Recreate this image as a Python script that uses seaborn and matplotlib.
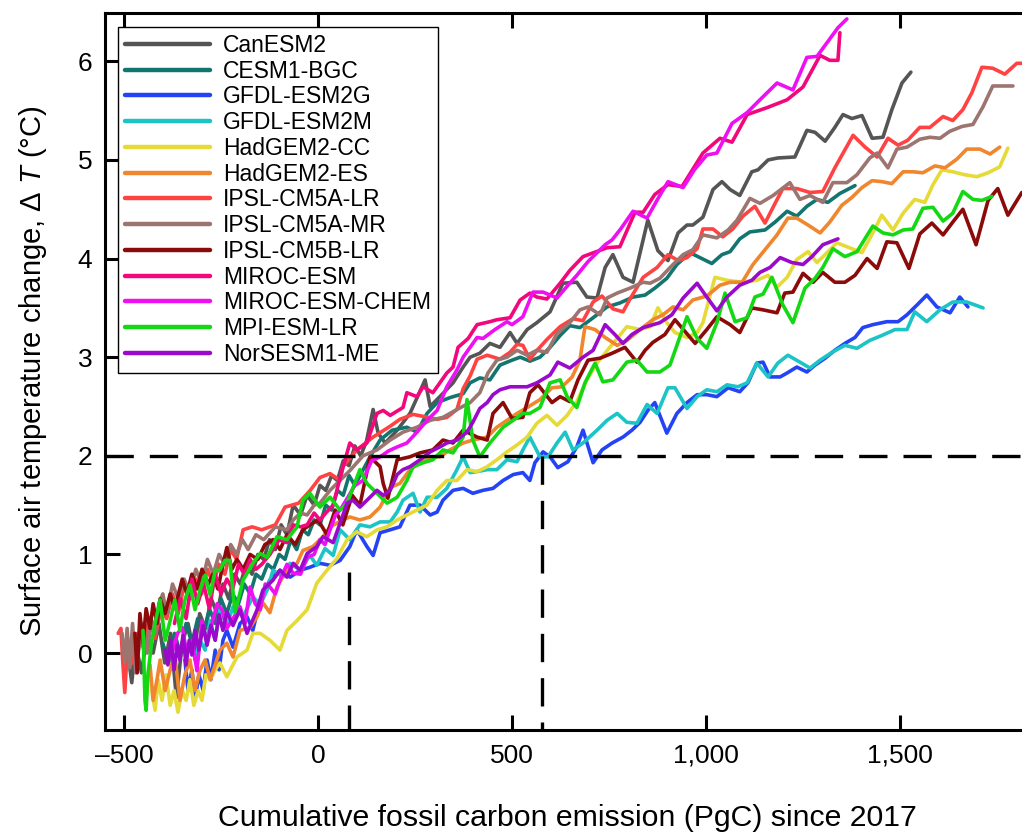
import numpy as np
import pandas as pd
import matplotlib
matplotlib.use("Agg")
import matplotlib.pyplot as plt
from matplotlib.lines import Line2D
from matplotlib.ticker import FuncFormatter
import seaborn as sns

# (cumulative emission PgC since 2017, warming degC)
canesm2 = [(-490, 0.0), (-480, -0.3), (-470, 0.1), (-455, -0.2), (-440, 0.2), (-425, 0.0), (-410, 0.3),
           (-395, -0.1), (-380, 0.2), (-365, -0.45), (-350, 0.1), (-335, 0.3), (-320, 0.0), (-305, 0.4),
           (-290, 0.25), (-275, 0.55), (-260, 0.4), (-245, 0.7), (-230, 0.55), (-215, 0.8), (-200, 0.7),
           (-185, 0.9), (-170, 0.8), (-155, 1.0), (-140, 0.95), (-125, 1.15), (-110, 1.05), (-95, 1.3),
           (-80, 1.2), (-64, 1.5), (-45, 1.4), (-28, 1.6), (-10, 1.5), (5, 1.7), (20, 1.65), (35, 1.8),
           (50, 1.75), (65, 1.95), (80, 1.9), (95, 2.1), (110, 2.0), (125, 2.15), (142, 2.47), (155, 2.23),
           (173, 2.13), (204, 2.26), (237, 2.43), (276, 2.77), (289, 2.50), (314, 2.60), (348, 2.74),
           (374, 2.90), (392, 3.00), (417, 3.04), (443, 3.14), (469, 3.10), (495, 3.25), (513, 3.14),
           (539, 3.28), (564, 3.35), (598, 3.46), (631, 3.75), (667, 3.76), (693, 3.61), (719, 3.60),
           (740, 3.91), (760, 4.04), (786, 3.81), (812, 3.76), (850, 4.39), (876, 4.08), (902, 3.98),
           (928, 4.26), (951, 4.34), (966, 4.34), (992, 4.42), (1018, 4.70), (1041, 4.78), (1062, 4.70),
           (1087, 4.64), (1118, 4.88), (1134, 4.90), (1160, 5.00), (1185, 5.02), (1229, 5.03), (1260, 5.30),
           (1281, 5.28), (1307, 5.19), (1332, 5.33), (1353, 5.46), (1376, 5.42), (1402, 5.45), (1428, 5.22),
           (1456, 5.23), (1479, 5.51), (1505, 5.78), (1528, 5.89)]

cesm1_bgc = [(-400, 0.1), (-385, -0.1), (-370, 0.2), (-355, 0.0), (-340, 0.3), (-325, 0.1), (-310, 0.35),
             (-295, 0.2), (-280, 0.45), (-265, 0.3), (-250, 0.55), (-235, 0.4), (-220, 0.6), (-205, 0.5),
             (-190, 0.7), (-175, 0.6), (-160, 0.8), (-145, 0.75), (-130, 0.9), (-115, 0.85), (-100, 1.0),
             (-85, 0.95), (-70, 1.15), (-55, 1.05), (-40, 1.25), (-25, 1.2), (-10, 1.35), (5, 1.3), (20, 1.5),
             (35, 1.45), (50, 1.65), (65, 1.6), (80, 1.8), (95, 1.7), (134, 1.99), (160, 2.16), (191, 2.26),
             (229, 2.29), (255, 2.24), (281, 2.43), (307, 2.54), (340, 2.59), (374, 2.63), (392, 2.74),
             (417, 2.79), (443, 2.77), (469, 2.92), (500, 2.97), (521, 3.00), (546, 2.96), (572, 3.00),
             (598, 3.10), (624, 3.22), (649, 3.32), (675, 3.30), (709, 3.40), (745, 3.51), (778, 3.55),
             (812, 3.61), (843, 3.63), (868, 3.70), (899, 3.80), (925, 3.94), (959, 4.06), (979, 4.02),
             (1015, 3.95), (1041, 4.04), (1062, 4.07), (1087, 4.20), (1113, 4.27), (1152, 4.29), (1178, 4.37),
             (1209, 4.48), (1234, 4.43), (1260, 4.53), (1286, 4.60), (1314, 4.57), (1345, 4.66), (1384, 4.74)]

gfdl_esm2g = [(-343, -0.07), (-335, -0.38), (-325, -0.17), (-317, -0.48), (-307, -0.22), (-296, -0.38),
              (-286, -0.07), (-276, -0.27), (-265, 0.03), (-255, -0.17), (-245, 0.13), (-235, 0.23),
              (-219, 0.06), (-201, 0.30), (-183, 0.37), (-168, 0.23), (-149, 0.54), (-124, 0.74), (-98, 0.84),
              (-72, 0.77), (-46, 0.84), (-21, 0.87), (5, 0.91), (31, 0.89), (57, 0.94), (82, 1.08), (100, 1.25),
              (126, 1.08), (142, 0.99), (160, 1.22), (186, 1.25), (211, 1.28), (237, 1.50), (263, 1.50),
              (289, 1.40), (307, 1.43), (322, 1.55), (348, 1.65), (374, 1.67), (399, 1.62), (425, 1.65),
              (451, 1.67), (477, 1.75), (503, 1.81), (528, 1.83), (546, 1.75), (559, 1.93), (580, 2.04),
              (598, 1.99), (618, 1.88), (644, 1.94), (667, 2.09), (683, 2.26), (709, 1.93), (732, 2.06),
              (758, 2.13), (786, 2.19), (809, 2.26), (830, 2.34), (850, 2.46), (868, 2.54), (899, 2.23),
              (925, 2.43), (951, 2.54), (977, 2.62), (1002, 2.62), (1028, 2.60), (1057, 2.69), (1087, 2.65),
              (1108, 2.74), (1131, 2.94), (1147, 2.95), (1165, 2.80), (1191, 2.80), (1209, 2.84), (1234, 2.90),
              (1260, 2.85), (1281, 2.92), (1307, 2.99), (1332, 3.07), (1358, 3.14), (1384, 3.20), (1404, 3.30),
              (1430, 3.33), (1466, 3.36), (1495, 3.36), (1518, 3.43), (1544, 3.53), (1569, 3.63), (1595, 3.51),
              (1629, 3.45), (1654, 3.61), (1675, 3.51)]

gfdl_esm2m = [(-317, -0.07), (-304, 0.13), (-291, 0.03), (-278, 0.33), (-265, 0.13), (-253, 0.44),
              (-235, 0.28), (-219, 0.47), (-193, 0.37), (-168, 0.57), (-149, 0.49), (-131, 0.64), (-116, 0.84),
              (-90, 0.77), (-72, 0.91), (-46, 0.84), (-21, 0.99), (-3, 0.89), (18, 1.06), (39, 0.99), (57, 1.25),
              (82, 1.15), (108, 1.30), (134, 1.28), (160, 1.33), (186, 1.33), (204, 1.43), (219, 1.55),
              (245, 1.62), (263, 1.43), (281, 1.58), (307, 1.58), (332, 1.67), (358, 1.86), (374, 1.99),
              (392, 1.83), (410, 1.84), (436, 1.86), (461, 1.86), (487, 1.96), (513, 1.94), (528, 2.06),
              (546, 2.19), (572, 1.99), (593, 1.99), (616, 2.13), (637, 2.24), (657, 2.06), (683, 2.13),
              (719, 2.26), (745, 2.36), (771, 2.43), (796, 2.34), (822, 2.33), (848, 2.52), (874, 2.43),
              (902, 2.69), (920, 2.69), (951, 2.48), (977, 2.60), (1002, 2.67), (1028, 2.65), (1054, 2.72),
              (1082, 2.70), (1106, 2.74), (1131, 2.94), (1160, 2.80), (1185, 2.94), (1211, 3.02), (1242, 2.95),
              (1268, 2.89), (1294, 2.97), (1325, 3.05), (1358, 3.12), (1389, 3.09), (1422, 3.17), (1453, 3.22),
              (1487, 3.28), (1518, 3.28), (1538, 3.46), (1569, 3.36), (1603, 3.48), (1636, 3.56), (1672, 3.56),
              (1714, 3.50)]

hadgem2_cc = [(-428, -0.38), (-420, -0.58), (-412, -0.27), (-402, -0.48), (-392, -0.22), (-381, -0.53),
              (-371, -0.38), (-361, -0.60), (-350, -0.38), (-340, -0.48), (-330, -0.27), (-320, -0.53),
              (-309, -0.38), (-299, -0.48), (-289, -0.22), (-278, -0.27), (-265, -0.17), (-253, -0.10),
              (-235, -0.24), (-209, -0.04), (-183, 0.03), (-168, 0.20), (-149, 0.20), (-124, 0.13), (-98, 0.03),
              (-80, 0.23), (-54, 0.33), (-28, 0.44), (-3, 0.71), (23, 0.84), (49, 0.96), (75, 1.15), (100, 1.23),
              (126, 1.18), (152, 1.25), (178, 1.28), (204, 1.35), (229, 1.40), (255, 1.45), (281, 1.50),
              (307, 1.65), (332, 1.75), (358, 1.75), (384, 1.86), (410, 1.84), (436, 1.89), (461, 1.96),
              (487, 2.04), (513, 2.11), (539, 2.19), (564, 2.33), (590, 2.41), (616, 2.31), (642, 2.41),
              (667, 2.55), (693, 2.77), (719, 2.94), (752, 3.10), (796, 3.31), (830, 3.28), (856, 3.31),
              (876, 3.50), (899, 3.35), (920, 3.25), (951, 3.20), (977, 3.25), (992, 3.35), (1023, 3.81),
              (1054, 3.78), (1093, 3.76), (1131, 3.78), (1160, 3.83), (1183, 3.71), (1209, 3.81), (1234, 3.99),
              (1263, 4.07), (1286, 3.96), (1312, 4.06), (1337, 4.16), (1363, 4.12), (1402, 4.06), (1430, 4.26),
              (1453, 4.44), (1482, 4.29), (1508, 4.46), (1538, 4.60), (1564, 4.57), (1585, 4.75), (1608, 4.90),
              (1636, 4.88), (1667, 4.85), (1698, 4.83), (1727, 4.87), (1757, 4.93), (1778, 5.12)]

hadgem2_es = [(-433, -0.12), (-425, -0.48), (-415, -0.27), (-407, -0.07), (-394, -0.38), (-381, -0.17),
              (-369, -0.02), (-356, -0.48), (-343, -0.22), (-330, -0.07), (-317, -0.38), (-304, -0.17),
              (-291, -0.07), (-278, -0.27), (-265, -0.12), (-253, 0.03), (-235, 0.10), (-219, -0.04),
              (-201, 0.23), (-175, 0.26), (-157, 0.37), (-142, 0.51), (-124, 0.41), (-106, 0.67), (-80, 0.84),
              (-54, 0.91), (-39, 1.04), (-13, 1.08), (13, 1.18), (31, 1.28), (64, 1.35), (82, 1.38), (108, 1.35),
              (134, 1.38), (160, 1.48), (186, 1.68), (211, 1.72), (237, 1.86), (263, 1.93), (289, 1.99),
              (314, 1.99), (340, 2.06), (374, 2.13), (399, 2.16), (436, 2.19), (461, 2.29), (487, 2.36),
              (513, 2.43), (539, 2.49), (572, 2.57), (603, 2.69), (629, 2.70), (655, 2.80), (675, 2.97),
              (688, 3.31), (714, 3.28), (740, 3.20), (771, 3.12), (796, 3.17), (830, 3.28), (863, 3.38),
              (889, 3.43), (915, 3.51), (941, 3.48), (966, 3.58), (1002, 3.62), (1036, 3.73), (1062, 3.76),
              (1093, 3.76), (1121, 3.94), (1152, 4.09), (1183, 4.24), (1211, 4.41), (1234, 4.41), (1263, 4.34),
              (1294, 4.26), (1319, 4.37), (1350, 4.54), (1376, 4.62), (1402, 4.72), (1428, 4.79), (1453, 4.78),
              (1479, 4.76), (1508, 4.88), (1533, 4.88), (1559, 4.87), (1590, 4.94), (1616, 4.92), (1647, 5.01),
              (1672, 5.11), (1706, 5.11), (1732, 5.06), (1757, 5.13)]

ipsl_cm5a_lr = [(-515, 0.2), (-508, 0.25), (-503, -0.1), (-498, -0.4), (-492, 0.0), (-485, 0.1), (-478, -0.1),
                (-465, 0.2), (-450, 0.05), (-435, 0.35), (-420, 0.15), (-405, 0.45), (-390, 0.35), (-375, 0.6),
                (-360, 0.4), (-345, 0.7), (-330, 0.55), (-315, 0.75), (-300, 0.6), (-285, 0.85), (-270, 0.7),
                (-255, 0.9), (-240, 0.8), (-225, 1.05), (-210, 0.95), (-193, 1.25), (-170, 1.28), (-145, 1.25),
                (-110, 1.30), (-85, 1.48), (-50, 1.52), (-20, 1.65), (5, 1.78), (31, 1.82), (57, 1.75),
                (64, 1.89), (100, 2.06), (142, 2.19), (186, 2.30), (211, 2.37), (245, 2.42), (271, 2.40),
                (307, 2.37), (332, 2.39), (358, 2.47), (374, 2.68), (392, 2.81), (410, 2.98), (436, 3.02),
                (469, 2.98), (495, 3.05), (513, 3.13), (528, 3.12), (546, 2.98), (567, 3.08), (590, 3.18),
                (624, 3.31), (657, 3.39), (683, 3.37), (709, 3.56), (732, 3.62), (760, 3.49), (786, 3.46),
                (804, 3.59), (838, 3.81), (874, 3.91), (902, 4.04), (928, 3.98), (951, 4.01), (977, 4.10),
                (992, 4.30), (1018, 4.30), (1043, 4.22), (1069, 4.30), (1095, 4.43), (1126, 4.53), (1152, 4.36),
                (1178, 4.56), (1198, 4.71), (1234, 4.71), (1268, 4.67), (1301, 4.68), (1332, 4.92), (1379, 5.25),
                (1410, 5.13), (1441, 5.03), (1469, 5.22), (1495, 5.15), (1520, 5.20), (1551, 5.33), (1577, 5.33),
                (1611, 5.44), (1636, 5.40), (1662, 5.51), (1685, 5.68), (1711, 5.94), (1739, 5.93), (1770, 5.87),
                (1801, 5.98), (1814, 5.98)]

ipsl_cm5a_mr = [(-505, 0.2), (-498, -0.1), (-492, 0.25), (-485, -0.15), (-478, 0.3), (-470, -0.2), (-460, 0.1),
                (-450, 0.3), (-440, 0.0), (-430, 0.35), (-420, 0.2), (-410, 0.5), (-400, 0.6), (-390, 0.4),
                (-375, 0.7), (-360, 0.55), (-345, 0.75), (-330, 0.6), (-315, 0.85), (-300, 0.7), (-285, 0.95),
                (-270, 0.8), (-255, 1.0), (-240, 0.9), (-225, 1.1), (-210, 1.0), (-195, 1.15), (-180, 1.05),
                (-160, 1.2), (-140, 1.15), (-110, 1.28), (-80, 1.25), (-64, 1.35), (-45, 1.42), (-28, 1.40),
                (-10, 1.5), (5, 1.52), (31, 1.65), (82, 1.85), (116, 2.00), (152, 2.06), (186, 2.16), (219, 2.24),
                (255, 2.29), (289, 2.36), (322, 2.39), (358, 2.47), (392, 2.54), (417, 2.64), (438, 2.84),
                (461, 2.97), (487, 3.00), (513, 3.07), (539, 3.02), (564, 3.07), (590, 3.05), (616, 3.24),
                (649, 3.35), (675, 3.48), (696, 3.51), (727, 3.43), (745, 3.60), (771, 3.65), (804, 3.70),
                (838, 3.76), (856, 3.75), (881, 3.80), (915, 3.94), (941, 4.04), (966, 4.09), (992, 4.24),
                (1028, 4.21), (1057, 4.29), (1080, 4.39), (1113, 4.61), (1139, 4.56), (1173, 4.64), (1216, 4.77),
                (1242, 4.60), (1268, 4.64), (1301, 4.57), (1327, 4.77), (1363, 4.77), (1389, 4.85), (1422, 5.02),
                (1441, 5.07), (1469, 4.92), (1492, 5.11), (1518, 5.13), (1551, 5.21), (1577, 5.23), (1603, 5.22),
                (1628, 5.29), (1660, 5.34), (1688, 5.36), (1714, 5.54), (1739, 5.75), (1791, 5.75)]

ipsl_cm5b_lr = [(-472, 0.2), (-466, -0.2), (-459, 0.4), (-451, 0.1), (-443, 0.45), (-433, 0.25), (-425, 0.5),
                (-415, 0.3), (-407, 0.55), (-394, 0.4), (-381, 0.6), (-369, 0.45), (-350, 0.75), (-338, 0.6),
                (-325, 0.8), (-312, 0.65), (-299, 0.85), (-283, 0.7), (-271, 0.8), (-258, 0.65), (-245, 0.9),
                (-235, 1.07), (-222, 0.85), (-209, 0.95), (-193, 0.85), (-175, 1.0), (-155, 0.95), (-137, 1.1),
                (-116, 1.15), (-98, 1.05), (-80, 1.2), (-59, 1.1), (-39, 1.25), (-21, 1.3), (0, 1.35), (23, 1.2),
                (44, 1.45), (64, 1.3), (88, 1.6), (108, 1.5), (134, 1.99), (160, 1.89), (168, 1.72), (180, 1.57),
                (204, 1.96), (237, 1.99), (263, 2.03), (296, 2.06), (322, 2.16), (348, 2.13), (374, 2.26),
                (410, 2.19), (436, 2.16), (451, 2.43), (477, 2.54), (500, 2.38), (528, 2.39), (546, 2.64),
                (567, 2.72), (603, 2.54), (624, 2.60), (649, 2.55), (670, 2.77), (696, 2.97), (727, 2.99),
                (758, 3.04), (791, 3.10), (822, 2.95), (843, 3.07), (863, 3.15), (894, 3.23), (920, 3.38),
                (946, 3.26), (972, 3.14), (1002, 3.28), (1028, 3.41), (1062, 3.33), (1087, 3.25), (1118, 3.50),
                (1147, 3.48), (1183, 3.45), (1203, 3.65), (1224, 3.66), (1250, 3.85), (1276, 3.76), (1301, 3.86),
                (1332, 3.76), (1358, 3.76), (1384, 3.83), (1415, 4.00), (1441, 3.90), (1466, 4.17), (1492, 4.16),
                (1523, 3.90), (1551, 4.25), (1582, 4.36), (1611, 4.24), (1636, 4.37), (1662, 4.50), (1696, 4.14),
                (1727, 4.59), (1752, 4.71), (1778, 4.44), (1814, 4.67)]

miroc_esm = [(-370, 0.3), (-355, 0.55), (-340, 0.35), (-325, 0.75), (-310, 0.5), (-295, 0.7), (-280, 0.45),
             (-265, 0.8), (-250, 0.6), (-235, 0.75), (-220, 0.65), (-205, 0.9), (-190, 0.8), (-175, 0.95),
             (-160, 0.85), (-145, 0.9), (-124, 1.0), (-100, 1.15), (-80, 1.12), (-64, 1.3), (-45, 1.28),
             (-28, 1.3), (-10, 1.42), (5, 1.35), (20, 1.42), (39, 1.5), (57, 1.78), (82, 2.13), (100, 2.06),
             (126, 2.13), (152, 2.43), (168, 2.46), (186, 2.41), (219, 2.49), (229, 2.64), (255, 2.60),
             (271, 2.70), (296, 2.64), (314, 2.74), (332, 2.84), (348, 2.90), (361, 3.10), (387, 3.19),
             (410, 3.33), (443, 3.36), (461, 3.38), (495, 3.40), (521, 3.58), (546, 3.65), (564, 3.61),
             (590, 3.59), (624, 3.75), (649, 3.88), (683, 4.02), (745, 4.11), (778, 4.12), (817, 4.47),
             (838, 4.47), (868, 4.65), (902, 4.75), (938, 4.73), (992, 5.07), (1036, 5.22), (1067, 5.18),
             (1106, 5.46), (1157, 5.53), (1209, 5.61), (1250, 5.74), (1294, 6.06), (1319, 6.01), (1340, 6.01),
             (1345, 6.29)]

miroc_esm_chem = [(-380, -0.05), (-362, 0.2), (-350, 0.26), (-338, 0.0), (-325, 0.13), (-312, -0.18),
                  (-299, 0.33), (-286, 0.1), (-273, 0.30), (-260, 0.5), (-247, 0.44), (-235, 0.25), (-222, 0.33),
                  (-201, 0.47), (-188, 0.3), (-175, 0.67), (-162, 0.5), (-149, 0.44), (-136, 0.7), (-124, 0.67),
                  (-110, 0.6), (-98, 0.74), (-80, 0.9), (-64, 0.81), (-45, 0.8), (-28, 0.97), (-10, 1.0),
                  (5, 1.15), (18, 1.1), (31, 1.25), (45, 1.4), (57, 1.45), (77, 1.58), (95, 1.7), (116, 1.75),
                  (138, 1.95), (160, 1.99), (182, 2.05), (204, 2.09), (229, 2.13), (255, 2.24), (281, 2.36),
                  (307, 2.46), (332, 2.70), (358, 2.87), (374, 3.00), (392, 3.10), (410, 3.20), (425, 3.19),
                  (456, 3.28), (487, 3.36), (500, 3.33), (528, 3.41), (554, 3.66), (580, 3.66), (616, 3.60),
                  (642, 3.72), (667, 3.83), (696, 3.97), (740, 4.14), (758, 4.19), (780, 4.3), (812, 4.48),
                  (848, 4.41), (875, 4.6), (902, 4.78), (941, 4.72), (970, 4.9), (1002, 5.05), (1028, 5.07),
                  (1067, 5.37), (1106, 5.48), (1139, 5.61), (1183, 5.78), (1224, 5.71), (1260, 6.04),
                  (1286, 6.05), (1340, 6.34), (1363, 6.43)]

mpi_esm_lr = [(-451, 0.23), (-446, -0.48), (-443, -0.58), (-438, -0.20), (-428, 0.13), (-420, 0.30),
              (-407, 0.54), (-394, 0.13), (-381, 0.33), (-369, 0.54), (-356, 0.23), (-343, 0.54), (-330, 0.69),
              (-317, 0.44), (-304, 0.64), (-291, 0.79), (-278, 0.59), (-265, 0.84), (-253, 0.84), (-240, 0.94),
              (-227, 0.94), (-214, 0.41), (-193, 0.74), (-168, 0.91), (-149, 1.01), (-131, 0.97), (-106, 1.18),
              (-80, 1.15), (-54, 1.28), (-39, 1.55), (-21, 1.62), (5, 1.48), (31, 1.58), (57, 1.45), (75, 1.52),
              (108, 1.86), (126, 1.72), (152, 1.62), (178, 1.52), (204, 1.58), (229, 1.75), (245, 1.89),
              (271, 1.93), (296, 1.96), (322, 2.06), (348, 2.03), (374, 2.19), (384, 2.57), (399, 2.16),
              (417, 1.99), (443, 2.13), (477, 2.29), (503, 2.36), (528, 2.43), (546, 2.43), (572, 2.49),
              (598, 2.74), (624, 2.77), (642, 2.60), (667, 2.49), (688, 2.74), (714, 2.94), (734, 2.75),
              (760, 2.77), (796, 2.95), (822, 2.97), (848, 2.85), (881, 2.85), (907, 2.92), (951, 3.41),
              (977, 3.19), (1002, 3.09), (1028, 3.35), (1049, 3.65), (1075, 3.36), (1106, 3.40), (1126, 3.61),
              (1147, 3.64), (1170, 3.81), (1198, 3.53), (1224, 3.35), (1255, 3.70), (1281, 3.80), (1301, 3.91),
              (1327, 4.10), (1358, 4.02), (1389, 4.07), (1430, 4.33), (1456, 4.26), (1482, 4.24), (1508, 4.29),
              (1533, 4.30), (1559, 4.51), (1585, 4.52), (1611, 4.38), (1636, 4.46), (1662, 4.68), (1688, 4.60),
              (1711, 4.59), (1737, 4.63)]

norsesm1_me = [(-394, 0.03), (-387, -0.12), (-379, 0.13), (-371, -0.17), (-363, 0.08), (-356, -0.07),
               (-348, 0.18), (-340, -0.12), (-332, 0.13), (-325, -0.02), (-317, 0.23), (-307, 0.03), (-296, 0.28),
               (-286, 0.08), (-276, 0.28), (-265, 0.13), (-255, 0.39), (-245, 0.23), (-235, 0.42), (-219, 0.28),
               (-201, 0.44), (-183, 0.20), (-157, 0.44), (-142, 0.64), (-116, 0.74), (-98, 0.84), (-80, 0.77),
               (-64, 0.91), (-46, 0.84), (-28, 1.01), (-3, 1.08), (13, 1.18), (39, 1.12), (57, 1.32), (75, 1.52),
               (90, 1.55), (108, 1.48), (134, 1.58), (152, 1.65), (168, 1.60), (186, 1.65), (204, 1.81),
               (219, 1.86), (237, 1.89), (263, 1.96), (289, 2.04), (314, 2.09), (332, 2.13), (358, 2.16),
               (384, 2.24), (399, 2.34), (417, 2.48), (436, 2.54), (451, 2.62), (469, 2.67), (495, 2.70),
               (521, 2.70), (539, 2.70), (564, 2.74), (598, 2.82), (618, 2.95), (649, 2.89), (683, 3.00),
               (709, 3.07), (740, 3.33), (765, 3.23), (786, 3.14), (809, 3.23), (838, 3.30), (881, 3.35),
               (912, 3.43), (941, 3.60), (977, 3.75), (1002, 3.61), (1028, 3.47), (1054, 3.61), (1087, 3.73),
               (1118, 3.78), (1139, 3.86), (1165, 3.91), (1191, 4.01), (1221, 3.96), (1250, 3.94), (1273, 4.02),
               (1301, 4.14), (1340, 4.20)]

MODELS = ["CanESM2", "CESM1-BGC", "GFDL-ESM2G", "GFDL-ESM2M", "HadGEM2-CC", "HadGEM2-ES",
          "IPSL-CM5A-LR", "IPSL-CM5A-MR", "IPSL-CM5B-LR", "MIROC-ESM", "MIROC-ESM-CHEM",
          "MPI-ESM-LR", "NorSESM1-ME"]
SERIES = [canesm2, cesm1_bgc, gfdl_esm2g, gfdl_esm2m, hadgem2_cc, hadgem2_es, ipsl_cm5a_lr,
          ipsl_cm5a_mr, ipsl_cm5b_lr, miroc_esm, miroc_esm_chem, mpi_esm_lr, norsesm1_me]
COLORS = ["#555555", "#13756f", "#2443f5", "#1cc4c6", "#e6da38", "#f0862e", "#ff4242",
          "#9c7571", "#8b0a0a", "#f2077c", "#ee10f2", "#14d814", "#9b0acb"]

# reference lines: 2 degC target, emissions to date and remaining budget
TARGET_WARMING = 2.0
WARMING_NOW = 0.82
EMIS_NOW = 80
EMIS_2DEG = 577

XLIM = (-549, 1835)
YLIM = (-0.78, 6.49)

frames = []
for name, pts in zip(MODELS, SERIES):
    arr = np.array(pts, dtype=float)
    frames.append(pd.DataFrame({"emission": arr[:, 0], "dT": arr[:, 1], "model": name}))
df = pd.concat(frames, ignore_index=True)

sns.set_style("ticks")
plt.rcParams["font.family"] = ["Liberation Sans", "DejaVu Sans"]
plt.rcParams["mathtext.fontset"] = "custom"
plt.rcParams["mathtext.rm"] = "Liberation Sans"
plt.rcParams["mathtext.it"] = "Liberation Sans:italic"
plt.rcParams["text.color"] = "black"
plt.rcParams["axes.labelcolor"] = "black"

fig = plt.figure(figsize=(10.22, 8.34), dpi=100)
fig.patch.set_facecolor("white")
ax = fig.add_axes([105 / 1022, 1 - 730 / 834, (1030 - 105) / 1022, (730 - 13) / 834])

palette = dict(zip(MODELS, COLORS))
sns.lineplot(data=df, x="emission", y="dT", hue="model", hue_order=MODELS, palette=palette,
             estimator=None, sort=False, lw=2.6, legend=False, ax=ax)

dash = dict(color="black", lw=2.4, dashes=(8.5, 4.8))
ax.axhline(TARGET_WARMING, **dash)
ax.plot([EMIS_NOW, EMIS_NOW], [WARMING_NOW, YLIM[0]], **dash)
ax.plot([EMIS_2DEG, EMIS_2DEG], [TARGET_WARMING, YLIM[0]], **dash)

ax.set_xlim(*XLIM)
ax.set_ylim(*YLIM)
ax.set_xticks([-500, 0, 500, 1000, 1500])
ax.set_yticks(range(0, 7))
ax.xaxis.set_major_formatter(FuncFormatter(lambda v, p: f"{v:,.0f}".replace("-", "\u2013")))
ax.tick_params(direction="in", length=11, width=2.2, top=True, right=False,
               labelsize=19, colors="black")
ax.tick_params(axis="x", pad=10)
ax.tick_params(axis="y", pad=9)
for spine in ax.spines.values():
    spine.set_linewidth(2.2)
    spine.set_color("black")

ax.set_xlabel("Cumulative fossil carbon emission (PgC) since 2017", fontsize=21.8, labelpad=26)
ax.set_ylabel("Surface air temperature change, \u0394 $T$ (\u00b0C)", fontsize=21, labelpad=21)

handles = [Line2D([], [], color=c, lw=3.2) for c in COLORS]
leg = ax.legend(handles, MODELS, loc="upper left", bbox_to_anchor=(0.014, 0.9805),
                borderaxespad=0, fontsize=16.5, handlelength=3.7, handletextpad=0.6,
                labelspacing=0.12, borderpad=0.3, frameon=True, fancybox=False,
                framealpha=1, edgecolor="black")
leg.get_frame().set_linewidth(1.0)

fig.savefig("out.png", dpi=100, facecolor="white")
